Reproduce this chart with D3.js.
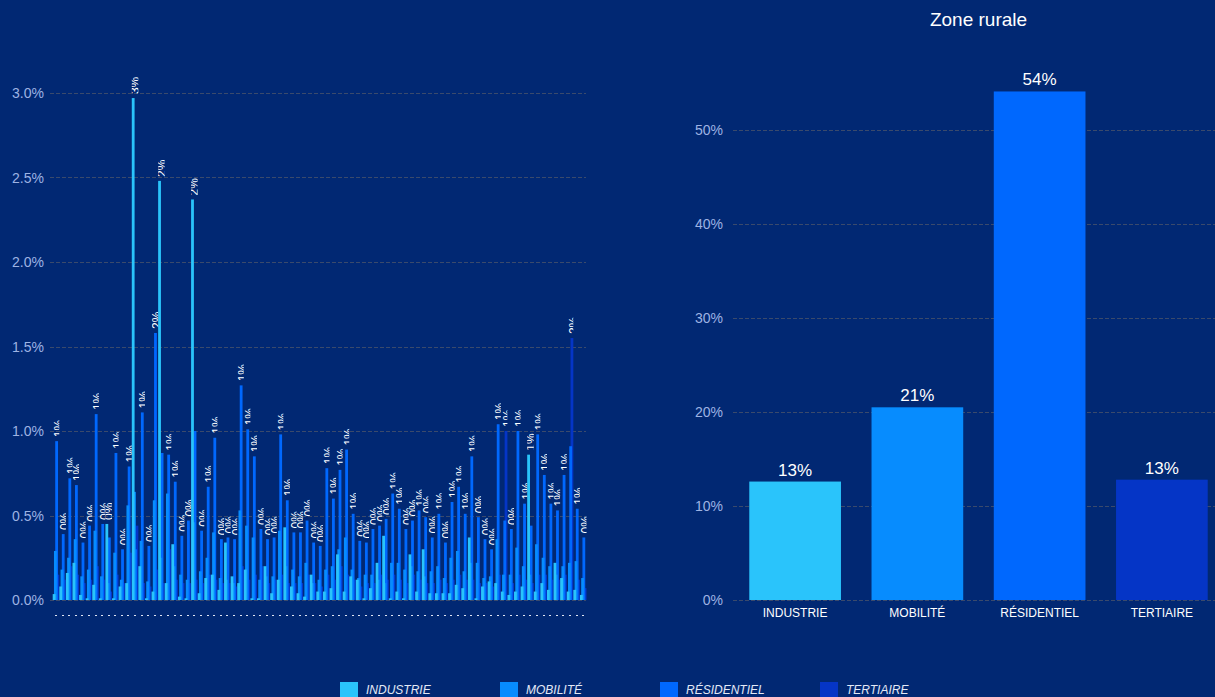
<!DOCTYPE html>
<html>
<head>
<meta charset="utf-8">
<script src="https://cdn.jsdelivr.net/npm/d3@7"></script>
<style>
  body { margin: 0; background: #012873; }
  svg { display: block; font-family: "Liberation Sans", Arial, sans-serif; }
</style>
</head>
<body>
<script>
// sectors
var series = ["INDUSTRIE", "MOBILITÉ", "RÉSIDENTIEL", "TERTIAIRE"];
var colors = ["#2ac4fb", "#078cfe", "#0068fe", "#0535c6"];

// left chart : share per commune (%)
var categories = d3.range(81);
var industrie = [.035,.08,.16,.22,.03,.01,.09,.01,.45,.01, .08,.10,2.97,.20,.01,.05,2.48,.10,.33,.02,
  .01,2.37,.04,.13,.15,.06,.34,.14,.10,.18, .01,.01,.20,.04,.12,.43,.08,.04,.02,.15,
  .05,.05,.07,.27,.05,.14,.12,.01,.07,.22, .38,.01,.05,.01,.27,.05,.30,.04,.04,.04,
  .04,.09,.07,.37,.01,.08,.11,.10,.05,.03, .05,.08,.86,.05,.10,.06,.22,.13,.05,.06, .03];
var mobilite = [.29,.18,.25,.36,.14,.18,.41,.14,.10,.28, .12,.56,.64,.35,.11,.59,.25,.63,.20,.15,
  .12,.46,.17,.25,.40,.13,.12,.10,.53,.44, .37,.12,.14,.14,.41,.20,.18,.14,.22,.10,
  .12,.18,.20,.30,.37,.18,.13,.15,.15,.12, .10,.22,.22,.18,.20,.17,.14,.17,.20,.13,
  .25,.29,.17,.22,.22,.13,.14,.36,.15,.15, .31,.20,.15,.33,.25,.20,.15,.20,.22,.23, .13];
var residentiel = [.94,.39,.72,.68,.34,.44,1.10,.45,.37,.87, .30,.79,.30,1.11,.32,1.58,.87,.86,.70,.38,
  .47,1.00,.41,.67,.96,.36,.37,.36,1.27,1.01, .85,.42,.36,.37,.98,.59,.40,.40,.47,.34,
  .32,.78,.60,.77,.89,.51,.35,.34,.42,.44, .48,.63,.54,.42,.47,.53,.49,.37,.51,.34,
  .58,.67,.51,.85,.49,.36,.30,1.04,.47,.42, 1.00,.57,.44,.98,.74,.57,.53,.74,.91,.54, .37];
var tertiaire = [.15,.12,.20,.15,.10,.12,.20,.12,.05,.15, .10,.28,.44,.10,.08,.18,.10,.30,.12,.10,
  .10,.12,.10,.15,.12,.10,.10,.08,.20,.12, .15,.20,.10,.12,.15,.10,.10,.10,.15,.10,
  .08,.15,.12,.20,.15,.12,.08,.10,.10,.15, .12,.15,.12,.10,.15,.12,.10,.10,.12,.10,
  .12,.15,.12,.12,.10,.10,.08,.15,1.00,.10, .15,.12,.10,.15,.15,.12,.12,.15,1.55,.12, .07];
var leftTicks = [0, 0.5, 1, 1.5, 2, 2.5, 3];

// right chart : zone rurale (%)
var rurale = [12.6, 20.5, 54.1, 12.8];
var rightTicks = [0, 10, 20, 30, 40, 50];
var rightTitle = "Zone rurale";

var width = 1215, height = 697;
var svg = d3.select("body").append("svg")
    .attr("width", width)
    .attr("height", height);

var gridColor = "#3a4a6c";
var tickColor = "#9db3e3";

//------ left chart
var values = [industrie, mobilite, residentiel, tertiaire];
var barW = 2.8;
var y = d3.scaleLinear().domain([0, 3]).range([600, 93]);
var x0 = d3.scaleBand().domain(categories).range([52.7, 586.5]).padding(0);
var x1 = d3.scalePoint().domain(d3.range(4)).range([0, x0.bandwidth() - barW]);

var left = svg.append("g");

left.selectAll("line.grid")
    .data(leftTicks)
    .enter()
    .append("line")
    .attr("x1", 50).attr("x2", 586)
    .attr("y1", d => Math.round(y(d)) + 0.5).attr("y2", d => Math.round(y(d)) + 0.5)
    .attr("stroke", gridColor)
    .attr("stroke-dasharray", "4,2");

left.selectAll("text.tick")
    .data(leftTicks)
    .enter()
    .append("text")
    .attr("x", 44)
    .attr("y", d => y(d) + 5)
    .attr("text-anchor", "end")
    .attr("font-size", 14)
    .attr("fill", tickColor)
    .text(d => d3.format(".1f")(d) + "%");

// bars, last sector first so the first one stays in front
[3, 2, 1, 0].forEach(function(s){
    left.append("g")
        .selectAll("rect")
        .data(values[s])
        .enter()
        .append("rect")
        .attr("x", (d, i) => x0(categories[i]) + x1(s))
        .attr("width", barW)
        .attr("y", d => y(d))
        .attr("height", d => y(0) - y(d))
        .attr("fill", colors[s]);
});

// label of the highest bar of each commune, clipped to its slot
var tops = categories.map(function(c, i){
    var v = values.map(a => a[i]);
    var s = d3.maxIndex(v);
    return {c: c, s: s, v: v[s]};
});

var defs = svg.append("defs");
tops.forEach(function(t, i){
    defs.append("clipPath")
        .attr("id", "lc" + i)
        .append("rect")
        .attr("x", x0(t.c))
        .attr("y", 0)
        .attr("width", x0.bandwidth())
        .attr("height", 600);
});

left.selectAll("text.lab")
    .data(tops)
    .enter()
    .append("g")
    .attr("clip-path", (d, i) => "url(#lc" + i + ")")
    .append("text")
    .attr("transform", d => "translate(" + (x0(d.c) + x1(d.s) + barW / 2 + 2) + "," + (y(d.v) - 4) + ") rotate(-90)")
    .attr("font-size", 12)
    .attr("fill", "#ffffff")
    .attr("dominant-baseline", "central")
    .text(d => Math.round(d.v) + "%");

// category marks on the x axis
left.selectAll("rect.dot")
    .data(categories)
    .enter()
    .append("rect")
    .attr("x", d => Math.round(x0(d) + x0.bandwidth() / 2 - 1))
    .attr("y", 615)
    .attr("width", 2)
    .attr("height", 1)
    .attr("fill", "#dfe5f3");

//------ right chart
var y2 = d3.scaleLinear().domain([0, 50]).range([600, 130]);
var xr = d3.scaleBand().domain(series).range([734, 1223]).paddingInner(0.25).paddingOuter(0.125);

var right = svg.append("g");

right.append("text")
    .attr("x", (734 + 1223) / 2)
    .attr("y", 26)
    .attr("text-anchor", "middle")
    .attr("font-size", 19)
    .attr("fill", "#ffffff")
    .text(rightTitle);

right.selectAll("line.grid")
    .data(rightTicks)
    .enter()
    .append("line")
    .attr("x1", 733).attr("x2", 1215)
    .attr("y1", d => Math.round(y2(d)) + 0.5).attr("y2", d => Math.round(y2(d)) + 0.5)
    .attr("stroke", gridColor)
    .attr("stroke-dasharray", "4,2");

right.selectAll("text.tick")
    .data(rightTicks)
    .enter()
    .append("text")
    .attr("x", 723)
    .attr("y", d => y2(d) + 5)
    .attr("text-anchor", "end")
    .attr("font-size", 14)
    .attr("fill", tickColor)
    .text(d => d + "%");

right.selectAll("rect.bar")
    .data(rurale)
    .enter()
    .append("rect")
    .attr("x", (d, i) => xr(series[i]))
    .attr("width", xr.bandwidth())
    .attr("y", d => y2(d))
    .attr("height", d => y2(0) - y2(d))
    .attr("fill", (d, i) => colors[i]);

right.selectAll("text.val")
    .data(rurale)
    .enter()
    .append("text")
    .attr("x", (d, i) => xr(series[i]) + xr.bandwidth() / 2)
    .attr("y", d => y2(d) - 6)
    .attr("text-anchor", "middle")
    .attr("font-size", 17)
    .attr("fill", "#ffffff")
    .text(d => Math.round(d) + "%");

right.selectAll("text.cat")
    .data(series)
    .enter()
    .append("text")
    .attr("x", d => xr(d) + xr.bandwidth() / 2)
    .attr("y", 617)
    .attr("text-anchor", "middle")
    .attr("font-size", 12)
    .attr("fill", "#ffffff")
    .text(d => d);

//------ legend
var legend = svg.append("g")
    .selectAll("g")
    .data(series)
    .enter()
    .append("g")
    .attr("transform", (d, i) => "translate(" + (340 + i * 160) + ",682)");

legend.append("rect")
    .attr("width", 18)
    .attr("height", 18)
    .attr("fill", (d, i) => colors[i]);

legend.append("text")
    .attr("x", 26)
    .attr("y", 12)
    .attr("font-size", 12)
    .attr("font-style", "italic")
    .attr("fill", "#e3e9f6")
    .text(d => d);
</script>
</body>
</html>
